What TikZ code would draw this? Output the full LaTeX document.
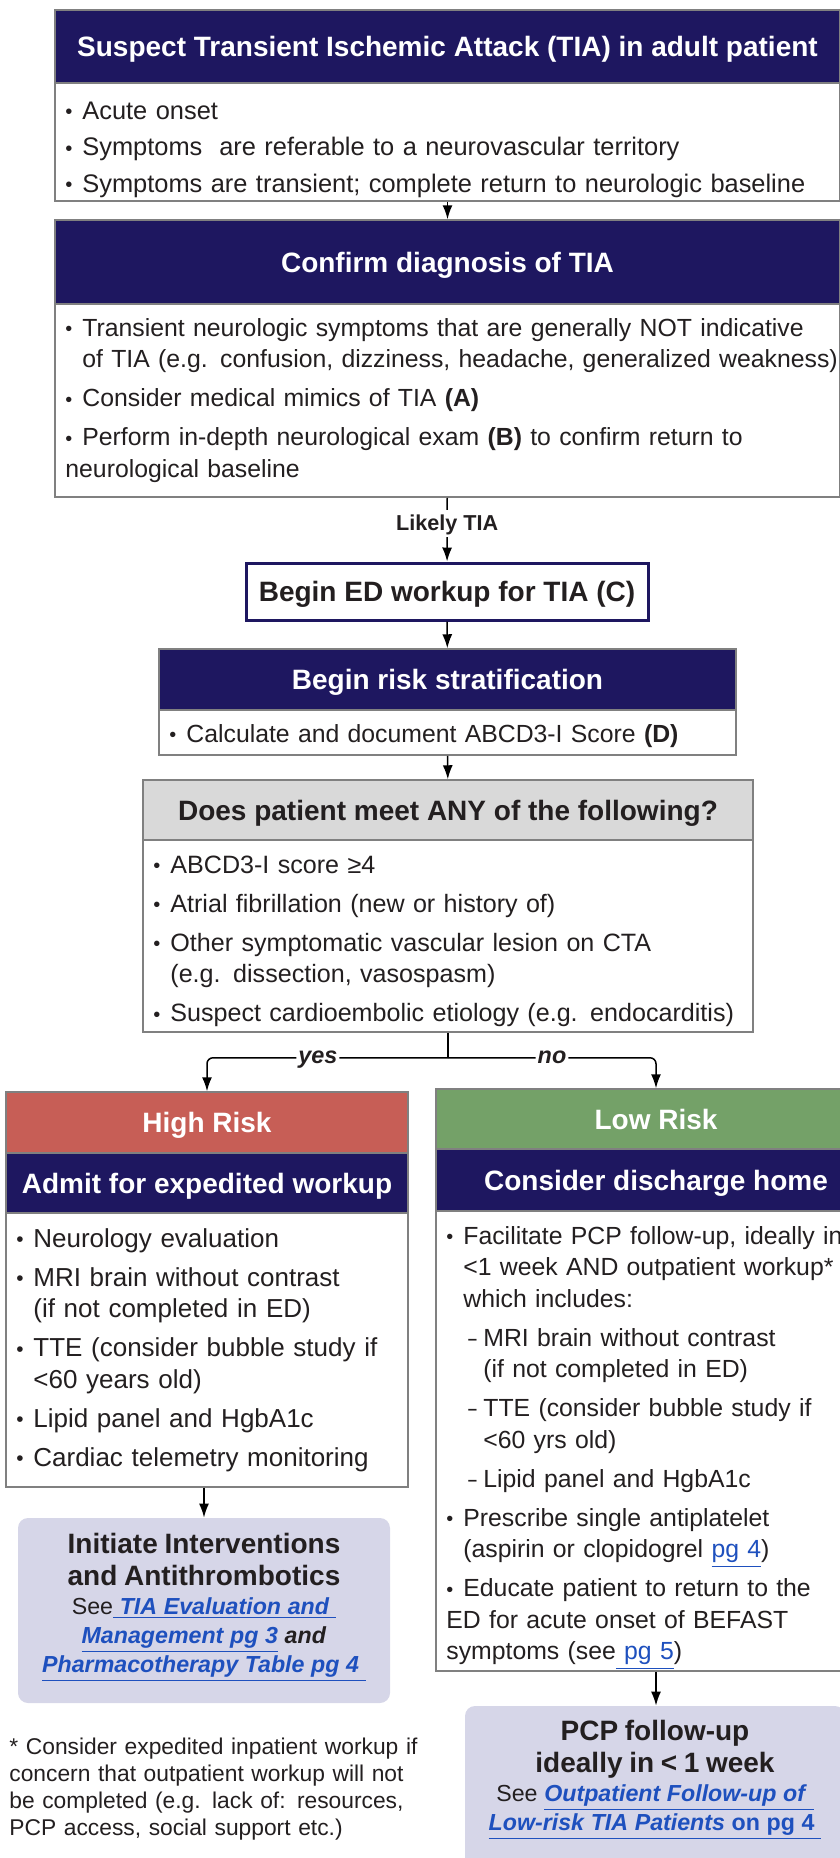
\documentclass[tikz,border=0pt]{standalone}
\usepackage{fontspec}
\setmainfont{Liberation Sans}
\usetikzlibrary{arrows.meta}

\definecolor{navy}{RGB}{30,23,96}
\definecolor{riskred}{RGB}{199,94,86}
\definecolor{riskgreen}{RGB}{116,161,104}
\definecolor{askgray}{RGB}{217,217,217}
\definecolor{lilac}{RGB}{214,214,232}
\definecolor{linkblue}{RGB}{30,80,190}
\definecolor{edge}{RGB}{128,128,128}
\definecolor{ink}{RGB}{35,31,32}

\newcommand{\bodysize}[1]{\fontsize{#1}{15.75pt}\selectfont}
\newcommand{\headfont}{\fontsize{14pt}{16pt}\selectfont\bfseries}
\newcommand{\linkfont}{\fontsize{11.6pt}{14.5pt}\selectfont}
\newcommand{\notefont}{\fontsize{11.4pt}{13.5pt}\selectfont}
\newcommand{\tagfont}{\fontsize{10.8pt}{13pt}\selectfont\bfseries}
\newcommand{\branchfont}{\fontsize{11.7pt}{14pt}\selectfont\bfseries\itshape}

% list items with hanging indent
\newcommand{\blt}{\raisebox{0.4pt}{\scalebox{0.8}{\textbullet}}}
\newcommand{\bfirst}{\noindent\hangindent=8.5pt\hangafter=1\strut\hbox to 8.5pt{\blt\hfil}}
\newcommand{\bitem}{\par\bfirst}
\newcommand{\ditem}{\par\noindent\hangindent=18.5pt\hangafter=1\hspace*{11pt}\strut\hbox to 7.5pt{\scalebox{0.6}[1]{--}\hfil}}
\newcommand{\bfit}[1]{\textbf{\textit{#1}}}
\newcommand{\pglink}[1]{\textcolor{linkblue}{\underline{#1}}}

\begin{document}
\begin{tikzpicture}[x=0.5pt, y=-0.5pt, >={Latex[length=7pt,width=5pt]},
	head/.style={inner sep=0pt, draw=edge, line width=0.75pt, fill=navy, text=white, font=\headfont, text height=10pt, text depth=0pt},
	frame/.style={inner sep=0pt, draw=edge, line width=0.75pt, fill=white},
	items/.style={anchor=north west, inner sep=0pt, text width=500pt, align=left, font=\bodysize{#1}, text=ink},
	panel/.style={inner sep=0pt, fill=lilac, rounded corners=5pt},
	tag/.style={fill=white, inner xsep=1.5pt, inner ysep=3pt, text=ink, font=\tagfont, text height=7.7pt, text depth=0pt},
	branch/.style={fill=white, inner xsep=1pt, inner ysep=3pt, text=ink, font=\branchfont, text height=6pt, text depth=0pt},
	flow/.style={->, line width=0.75pt}]

	\useasboundingbox (0,0) rectangle (840,1858);
	\clip (0,0) rectangle (840,1858);

	% suspected TIA
	\node[head, minimum width=392.5pt, minimum height=36.5pt] (sus) at (447.5,46.5) {Suspect Transient Ischemic Attack (TIA) in adult patient};
	\node[frame, minimum width=392.5pt, minimum height=59pt] (susbox) at (447.5,142) {};
	\node[items=12.7pt] (suslist) at (65,97) {\parskip=2.5pt
		\bfirst Acute onset
		\bitem Symptoms~ are referable to a neurovascular territory
		\bitem Symptoms are transient; complete return to neurologic baseline};

	% confirm diagnosis
	\node[head, minimum width=392.5pt, minimum height=42pt] (conf) at (447.5,262) {Confirm diagnosis of TIA};
	\node[frame, minimum width=392.5pt, minimum height=96.5pt] (confbox) at (447.5,400.5) {};
	\node[items=12.4pt] (conflist) at (65,314) {\parskip=3.75pt
		\bfirst Transient neurologic symptoms that are generally NOT indicative\newline of TIA (e.g. confusion, dizziness, headache, generalized weakness)
		\bitem Consider medical mimics of TIA \textbf{(A)}
		\bitem Perform in-depth neurological exam \textbf{(B)} to confirm return to\newline neurological baseline};

	% ED workup
	\node[head, draw=navy, line width=1.5pt, fill=white, text=ink, minimum width=201pt, minimum height=28.5pt] (ed) at (447,591.5) {Begin ED workup for TIA (C)};

	% risk stratification
	\node[head, minimum width=288.5pt, minimum height=30.5pt] (strat) at (447.5,679.5) {Begin risk stratification};
	\node[frame, minimum width=288.5pt, minimum height=22.5pt] (stratbox) at (447.5,732.5) {};
	\node[items=12.4pt] (stratlist) at (169,720) {\bfirst Calculate and document ABCD3-I Score \textbf{(D)}};

	% decision
	\node[head, fill=askgray, text=ink, minimum width=305pt, minimum height=30pt] (ask) at (448,810) {Does patient meet ANY of the following?};
	\node[frame, minimum width=305pt, minimum height=96pt] (askbox) at (448,936) {};
	\node[items=12.55pt] (asklist) at (153,851) {\parskip=3.75pt
		\bfirst ABCD3-I score ≥4
		\bitem Atrial fibrillation (new or history of)
		\bitem Other symptomatic vascular lesion on CTA\newline (e.g. dissection, vasospasm)
		\bitem Suspect cardioembolic etiology (e.g. endocarditis)};

	% high risk branch
	\node[head, fill=riskred, minimum width=201pt, minimum height=30.5pt] (high) at (207,1122.5) {High Risk};
	\node[head, minimum width=201pt, minimum height=30pt] (admit) at (207,1183) {Admit for expedited workup};
	\node[frame, minimum width=201pt, minimum height=137pt] (admitbox) at (207,1350) {};
	\node[items=13pt] (admitlist) at (16,1225) {\parskip=3.75pt
		\bfirst Neurology evaluation
		\bitem MRI brain without contrast\newline (if not completed in ED)
		\bitem TTE (consider bubble study if\newline <60 years old)
		\bitem Lipid panel and HgbA1c
		\bitem Cardiac telemetry monitoring};

	% low risk branch
	\node[head, fill=riskgreen, minimum width=220pt, minimum height=30pt] (low) at (656,1119) {Low Risk};
	\node[head, minimum width=220pt, minimum height=31pt] (home) at (656,1180) {Consider discharge home};
	\node[frame, minimum width=220pt, minimum height=230pt] (homebox) at (656,1441) {};
	\node[items=12.4pt] (homelist) at (446,1222) {\parskip=3.75pt
		\bfirst Facilitate PCP follow-up, ideally in\newline <1 week AND outpatient workup*\newline which includes:
		\ditem MRI brain without contrast\newline (if not completed in ED)
		\ditem TTE (consider bubble study if\newline <60 yrs old)
		\ditem Lipid panel and HgbA1c
		\bitem Prescribe single antiplatelet\newline (aspirin or clopidogrel \pglink{pg 4})
		\bitem Educate patient to return to the\newline ED for acute onset of BEFAST\newline symptoms (see\pglink{ pg 5})};

	% next steps
	\node[panel, minimum width=186pt, minimum height=92.5pt] (treat) at (204,1610.5) {};
	\node[anchor=north, inner sep=0pt, text width=180pt, align=center, text=ink] (treattext) at (204,1531)
		{{\headfont\strut Initiate Interventions\\and Antithrombotics\par}
		{\linkfont See\pglink{\bfit{ TIA Evaluation and }}\\\pglink{\bfit{Management pg 3}} \bfit{and}\\\pglink{\bfit{Pharmacotherapy Table pg 4 }}\par}};
	\node[panel, minimum width=190pt, minimum height=89.5pt] (visit) at (655,1795.5) {};
	\node[anchor=north, inner sep=0pt, text width=180pt, align=center, text=ink] (visittext) at (655,1718)
		{{\headfont\strut PCP follow-up\\ideally in < 1 week\par}
		{\linkfont See \pglink{\bfit{Outpatient Follow-up of }}\\\pglink{\bfit{Low-risk TIA Patients }\textbf{on pg 4 }}\par}};

	\node[anchor=north west, inner sep=0pt, text width=220pt, align=left, font=\notefont, text=ink] (note) at (9,1738)
		{* Consider expedited inpatient workup if\newline concern that outpatient workup will not\newline be completed (e.g. lack of: resources,\newline PCP access, social support etc.)};

	% connectors
	\draw[flow] (susbox) -- (conf);
	\draw[flow] (confbox) -- node[tag, pos=0.4] (likely) {Likely TIA} (ed);
	\draw[flow] (ed) -- (strat);
	\draw[flow] (stratbox) -- (ask);
	\draw[line width=0.75pt] (askbox.south) -- ++(0,25) coordinate (fork);
	\draw[flow, rounded corners=3pt] (fork) -| node[branch, pos=0.27] (yes) {yes} (high.north);
	\draw[flow, rounded corners=3pt] (fork) -| node[branch, pos=0.25] (no) {no} (low.north);
	\draw[flow] (treat.north |- admitbox.south) -- (treat.north);
	\draw[flow] (homebox.south) -- (homebox.south |- visit.north);
\end{tikzpicture}
\end{document}
